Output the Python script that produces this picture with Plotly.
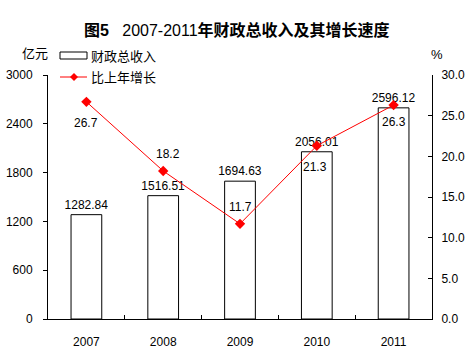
import plotly.graph_objects as go

years = ["2007", "2008", "2009", "2010", "2011"]
revenue = [1282.84, 1516.51, 1694.63, 2056.01, 2596.12]
growth = [26.7, 18.2, 11.7, 21.3, 26.3]
left_ticks = [0, 600, 1200, 1800, 2400, 3000]
right_ticks = [0, 5, 10, 15, 20, 25, 30]

# label offsets (styling only)
growth_shift_x = [0, 5, 0, -2, 0]
growth_shift_y = [-21, 17, 17, -21, -17]

W, H = 475, 356
L, R, T, B = 48, 432, 75, 319
FONT = "Liberation Sans, Arial, Noto Sans CJK SC, sans-serif"


def px(x):
    return (x - L) / (R - L)


def py(y):
    return (B - y) / (B - T)


fig = go.Figure()
fig.add_trace(go.Bar(
    x=years, y=revenue, width=0.4,
    marker=dict(color="white", line=dict(color="black", width=1)),
    text=[f"{v:.2f}" for v in revenue], textposition="outside",
    textfont=dict(size=12, color="black", family=FONT), constraintext="none",
    cliponaxis=False, showlegend=False, yaxis="y", hoverinfo="skip",
))
fig.add_trace(go.Scatter(
    x=years, y=growth, mode="lines+markers", yaxis="y2",
    line=dict(color="red", width=1),
    marker=dict(symbol="diamond", size=8, color="red"),
    showlegend=False, cliponaxis=False, hoverinfo="skip",
))

ann = []
for i, (g, dx, dy) in enumerate(zip(growth, growth_shift_x, growth_shift_y)):
    ann.append(dict(x=i, y=g, xref="x", yref="y2", text=f"{g:.1f}", showarrow=False,
                    xshift=dx, yshift=dy, font=dict(size=12, color="black", family=FONT)))

ann.append(dict(x=px(237), y=py(30), xref="paper", yref="paper", showarrow=False,
                text="<b>图5</b>   2007-2011<b>年财政总收入及其增长速度</b>",
                font=dict(size=16, color="black", family=FONT), xanchor="center", yanchor="middle"))
ann.append(dict(x=px(35), y=py(53), xref="paper", yref="paper", showarrow=False,
                text="亿元", font=dict(size=13, color="black", family=FONT),
                xanchor="center", yanchor="middle"))
ann.append(dict(x=px(437), y=py(55), xref="paper", yref="paper", showarrow=False,
                text="%", font=dict(size=13, color="black", family=FONT),
                xanchor="center", yanchor="middle"))
ann.append(dict(x=px(89), y=py(56), xref="paper", yref="paper", showarrow=False,
                text="财政总收入", font=dict(size=13, color="black", family=FONT),
                xanchor="left", yanchor="middle"))
ann.append(dict(x=px(89), y=py(77), xref="paper", yref="paper", showarrow=False,
                text="比上年增长", font=dict(size=13, color="black", family=FONT),
                xanchor="left", yanchor="middle"))

shapes = [
    dict(type="rect", xref="paper", yref="paper", x0=px(60), x1=px(87), y0=py(52), y1=py(59),
         line=dict(color="black", width=1), fillcolor="white"),
    dict(type="line", xref="paper", yref="paper", x0=px(60), x1=px(87), y0=py(77), y1=py(77),
         line=dict(color="red", width=1)),
    dict(type="path", xref="paper", yref="paper",
         path=f"M {px(74)} {py(73)} L {px(78)} {py(77)} L {px(74)} {py(81)} L {px(70)} {py(77)} Z",
         line=dict(color="red", width=0), fillcolor="red"),
]

fig.update_layout(
    width=W, height=H,
    margin=dict(l=L, r=W - R, t=T, b=H - B, autoexpand=False),
    paper_bgcolor="white", plot_bgcolor="white",
    font=dict(family=FONT, size=12, color="black"),
    xaxis=dict(type="category", range=[-0.5, 4.5], showline=True, linecolor="black", linewidth=1,
               ticks="inside", tickson="boundaries", ticklen=4, tickcolor="black",
               showgrid=False, zeroline=False, tickfont=dict(size=12), tickangle=0,
               ticklabelstandoff=12, automargin=False),
    yaxis=dict(range=[0, 3000], tickvals=left_ticks, showline=True, linecolor="black",
               linewidth=1, ticks="outside", ticklen=4, tickcolor="black",
               showgrid=False, zeroline=False, tickfont=dict(size=12), ticklabelstandoff=8,
               automargin=False),
    yaxis2=dict(range=[0, 30], tickvals=right_ticks, tickformat=".1f", overlaying="y",
                side="right", showline=True, linecolor="black", linewidth=1,
                ticks="inside", ticklen=4, tickcolor="black", showgrid=False,
                zeroline=False, tickfont=dict(size=12), ticklabelstandoff=6,
                automargin=False),
    annotations=ann, shapes=shapes, showlegend=False, bargap=0.6,
)

fig.write_html(
    "out.html",
    config={"displayModeBar": False},
    post_script="document.body.style.margin='0';document.body.style.overflow='hidden';",
)
